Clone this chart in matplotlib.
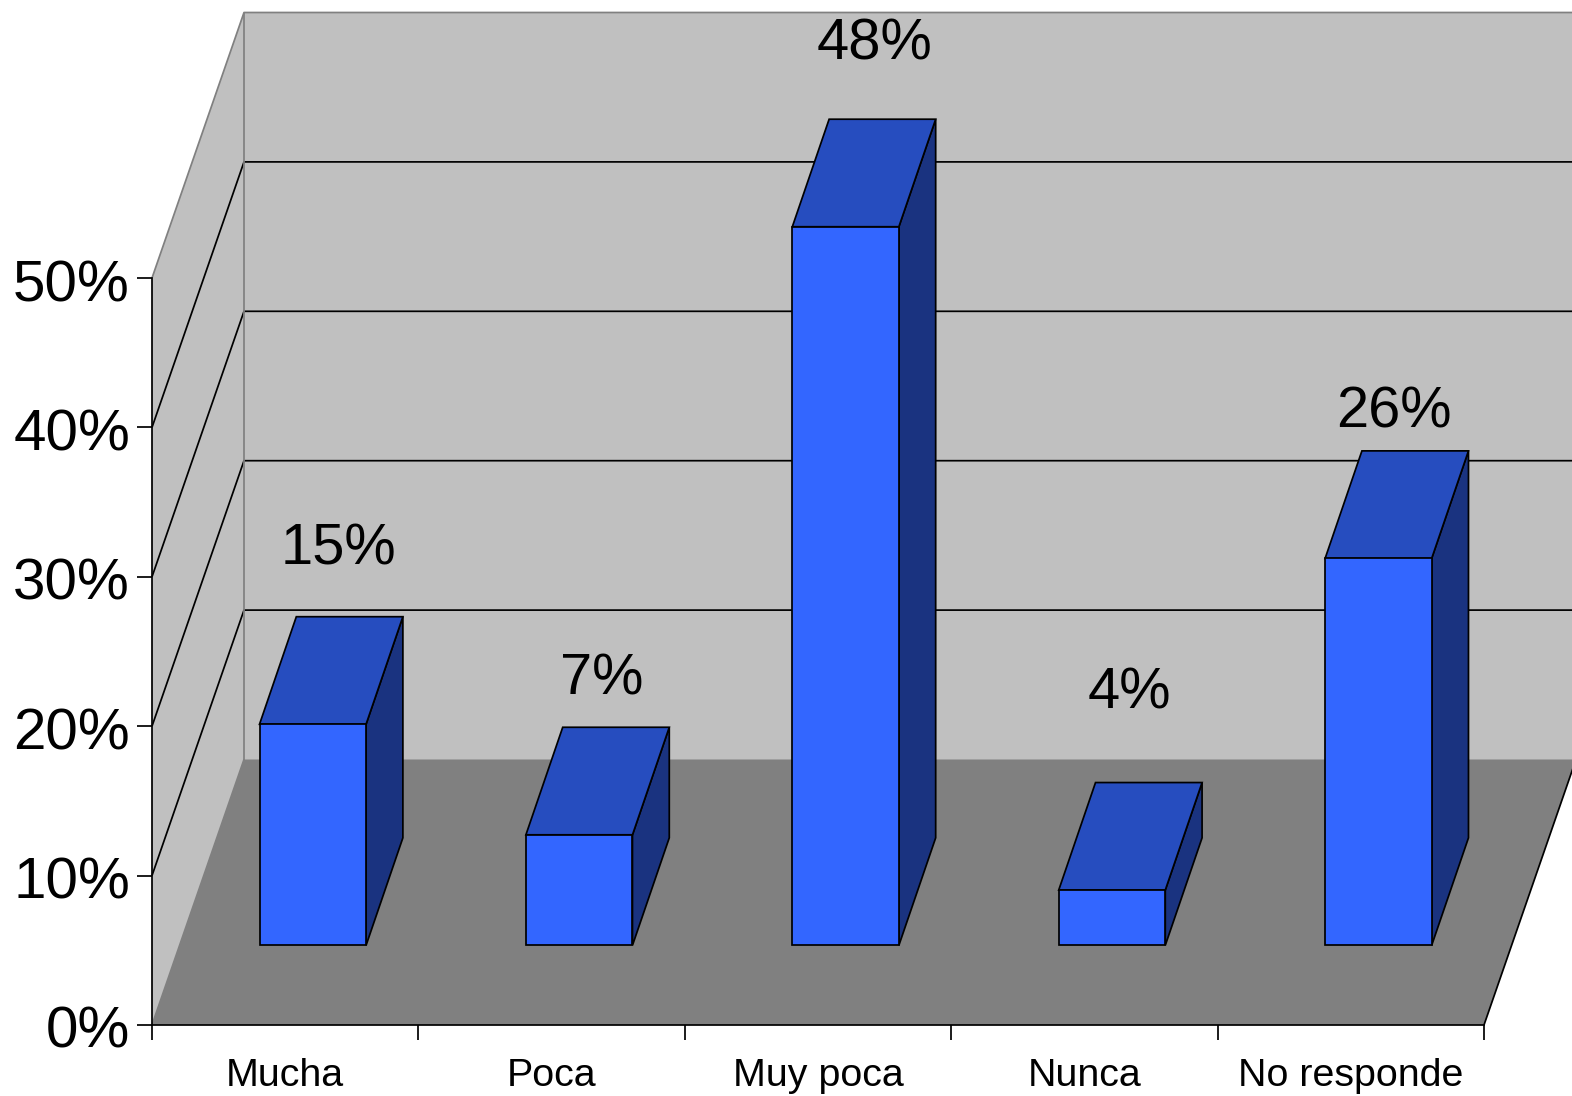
#!/usr/bin/env python3
"""Recreate the 3D-look column chart on flat matplotlib axes (oblique projection)."""

import matplotlib
matplotlib.use("Agg")
import matplotlib.pyplot as plt
from matplotlib.patches import Polygon
from matplotlib.transforms import ScaledTranslation

categories = ["Mucha", "Poca", "Muy poca", "Nunca", "No responde"]
bar_heights = [14.8, 7.4, 48.1, 3.7, 25.9]
bar_labels = ["15%", "7%", "48%", "4%", "26%"]
y_ticks = [0, 10, 20, 30, 40, 50]

# layout, in pixels of the 1572x1096 picture
W, H = 1572, 1096
LEFT, BASE, PLOT_W, PLOT_H = 152, 1025, 1332, 747
DEPTH_PX_X, DEPTH_PX_Y = 92, 265.5
# data label centre relative to the bar's front top-left corner (px right, px up)
label_offsets = [(79, 175), (76, 155), (82, 182), (71, 197), (69, 146)]

WALL = "#C0C0C0"
FLOOR = "#808080"
FRONT = "#3366FF"
TOP = "#264DBF"
SIDE = "#1A3380"
LW = 1.25

plt.rcParams["font.family"] = ["Liberation Sans", "DejaVu Sans"]

fig = plt.figure(figsize=(W / 100, H / 100), dpi=100, facecolor="white")
ax = fig.add_axes([LEFT / W, (H - BASE) / H, PLOT_W / W, PLOT_H / H])
ax.set_xlim(0, len(categories))
ax.set_ylim(0, 50)
ax.patch.set_visible(False)

dx = DEPTH_PX_X / PLOT_W * len(categories)
dy = DEPTH_PX_Y / PLOT_H * 50


def face(points, color, edge="none", z=1):
    ax.add_patch(Polygon(points, closed=True, facecolor=color, edgecolor=edge,
                         linewidth=LW, zorder=z, clip_on=False, joinstyle="miter"))


def line(xs, ys, color="black", z=2):
    ax.plot(xs, ys, color=color, lw=LW, zorder=z, clip_on=False, solid_capstyle="butt")


n = len(categories)
# back wall, side wall, floor
face([(dx, dy), (n + dx, dy), (n + dx, 50 + dy), (dx, 50 + dy)], WALL)
face([(0, 0), (dx, dy), (dx, 50 + dy), (0, 50)], WALL)
face([(0, 0), (n, 0), (n + dx, dy), (dx, dy)], FLOOR)

for v in y_ticks[1:-1]:
    line([0, dx, n + dx], [v, v + dy, v + dy])
line([0, dx, n + dx], [50, 50 + dy, 50 + dy], color=FLOOR)
line([dx, dx], [dy, 50 + dy], color=FLOOR)
line([0, dx], [0, dy], color=FLOOR)
line([n, n + dx], [0, dy])

# bars sit between 30% and 70% of the category's width and of the floor's depth
for i, h in enumerate(bar_heights):
    x0 = i + 0.30 + 0.30 * dx
    x1 = i + 0.70 + 0.30 * dx
    y0 = 0.30 * dy
    off_x, off_y = 0.40 * dx, 0.405 * dy
    face([(x1, y0), (x1 + off_x, y0 + off_y), (x1 + off_x, y0 + h + off_y), (x1, y0 + h)],
         SIDE, "black", 3)
    face([(x0, y0 + h), (x1, y0 + h), (x1 + off_x, y0 + h + off_y), (x0 + off_x, y0 + h + off_y)],
         TOP, "black", 3)
    face([(x0, y0), (x1, y0), (x1, y0 + h), (x0, y0 + h)], FRONT, "black", 4)
    px, py = label_offsets[i]
    ax.annotate(bar_labels[i], (x0, y0 + h), xytext=(px * 0.72, py * 0.72),
                textcoords="offset points", ha="center", va="center", fontsize=41.7,
                color="black", annotation_clip=False, zorder=5)

# axes: real ticks for the value axis and category boundaries
for name in ("top", "right"):
    ax.spines[name].set_visible(False)
for name in ("left", "bottom"):
    ax.spines[name].set_linewidth(LW)
    ax.spines[name].set_zorder(6)

ax.set_yticks(y_ticks)
ax.set_yticklabels([f"{v}%" for v in y_ticks], fontsize=42)
ax.tick_params(axis="y", length=10.8, width=LW, pad=5)
nudge = ScaledTranslation(0, -2 / 100, fig.dpi_scale_trans)
for lab in ax.get_yticklabels():
    lab.set_transform(lab.get_transform() + nudge)

ax.set_xticks(range(n + 1))
ax.set_xticklabels([])
ax.set_xticks([i + 0.5 for i in range(n)], minor=True)
ax.set_xticklabels(categories, minor=True, fontsize=28.4)
ax.tick_params(axis="x", which="major", length=10.8, width=LW)
ax.tick_params(axis="x", which="minor", length=0, pad=24)

fig.savefig("out.png", dpi=100)
